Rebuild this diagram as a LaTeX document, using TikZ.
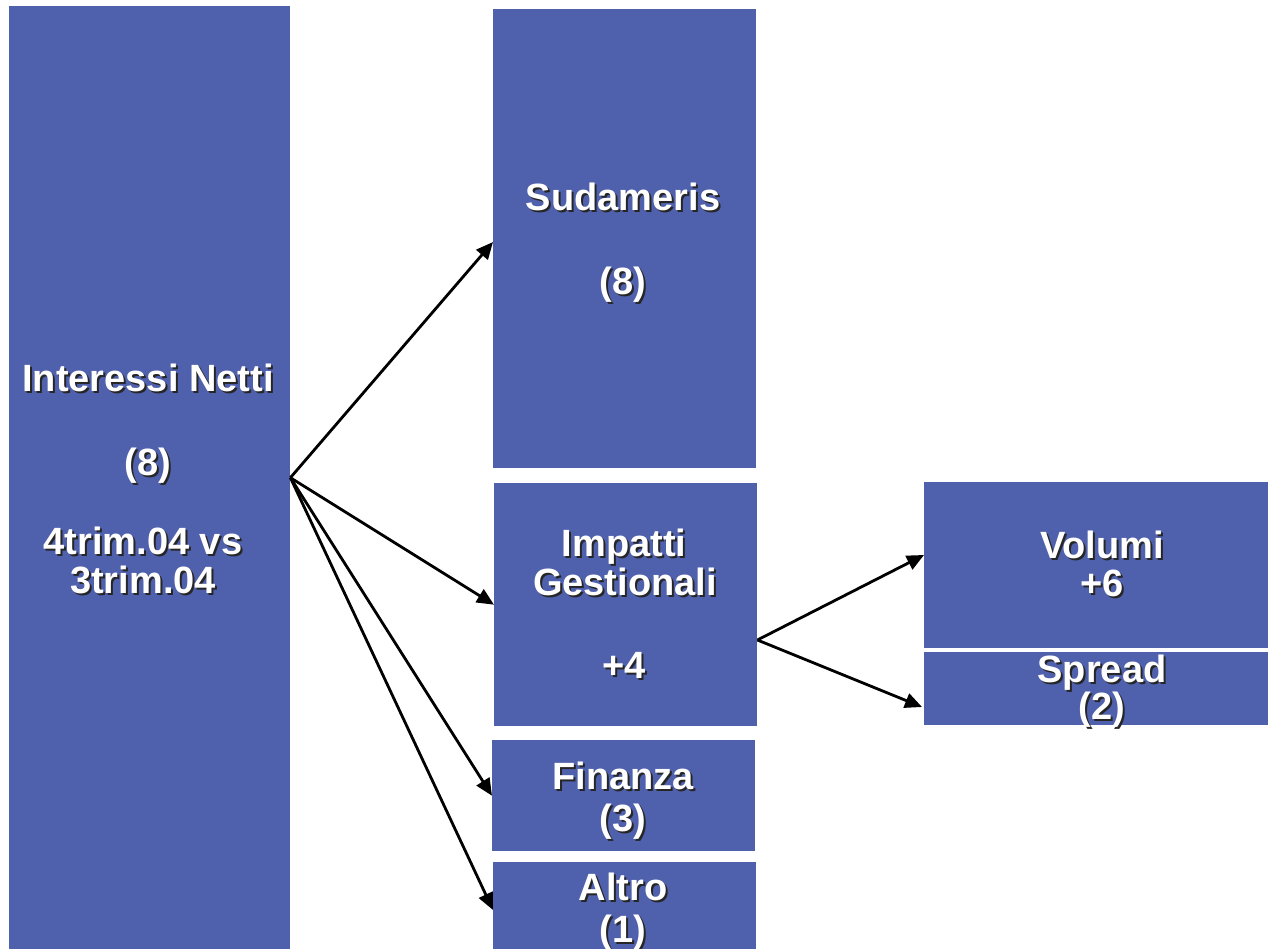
\documentclass[tikz,border=0pt]{standalone}
\usepackage{fontspec}
\setmainfont{Liberation Sans}
\usetikzlibrary{arrows.meta,calc}
\definecolor{boxblue}{RGB}{79,96,173}
\tikzset{
  box/.style={fill=boxblue, draw=none, inner sep=0pt, anchor=north west},
  txt/.style={text=white, font=\bfseries\fontsize{38}{39}\selectfont, anchor=base, inner sep=0pt},
  shd/.style={text=black!85, font=\bfseries\fontsize{38}{39}\selectfont, anchor=base, inner sep=0pt},
  arr/.style={draw=black, line width=2.8pt, -{Triangle[length=17pt,width=15pt]}}
}
\newcommand\shlabel[3]{%
  \node[shd] at ($(#1,#2)+(2,2)$) {#3};
  \node[txt] at (#1,#2) {#3};}
\begin{document}
\begin{tikzpicture}[x=1pt,y=-1pt]
\useasboundingbox (0,0) rectangle (1268,949);
\fill[white] (0,0) rectangle (1268,949);
% boxes
\node[box, minimum width=281pt, minimum height=943pt] (interessi) at (9,6) {};
\node[box, minimum width=263pt, minimum height=459pt] (sudameris) at (493,9) {};
\node[box, minimum width=263pt, minimum height=243pt] (impatti) at (494,483) {};
\node[box, minimum width=263pt, minimum height=111pt] (finanza) at (492,740) {};
\node[box, minimum width=263pt, minimum height=87pt] (altro) at (493,862) {};
\node[box, minimum width=344pt, minimum height=166pt] (volumi) at (924,482) {};
\node[box, minimum width=344pt, minimum height=73pt] (spread) at (924,652) {};
% texts
\shlabel{148}{391}{Interessi Netti}
\shlabel{148}{475}{(8)}
\shlabel{143}{554}{4trim.04 vs}
\shlabel{143}{593}{3trim.04}
\shlabel{623}{211}{Sudameris}
\shlabel{623}{295}{(8)}
\shlabel{624}{556}{Impatti}
\shlabel{625}{595}{Gestionali}
\shlabel{624}{678}{+4}
\shlabel{623}{789}{Finanza}
\shlabel{623}{831}{(3)}
\shlabel{623}{900}{Altro}
\shlabel{623}{942}{(1)}
\shlabel{1102}{558}{Volumi}
\shlabel{1102}{596}{+6}
\shlabel{1102}{682}{Spread}
\shlabel{1102}{719}{(2)}
% connectors
\coordinate (src) at (interessi.east);
\coordinate (isrc) at (impatti.east |- 0,640);
\draw[arr] (src) -- (sudameris.west |- 0,242);
\draw[arr] (src) -- (impatti.west);
\draw[arr] (src) -- (finanza.west);
\draw[arr] (src) -- (altro.west |- 0,910);
\draw[arr] (isrc) -- (volumi.west |- 0,555);
\draw[arr] (isrc) -- ($(spread.west |- 0,707)+(-2,0)$);
\end{tikzpicture}
\end{document}
